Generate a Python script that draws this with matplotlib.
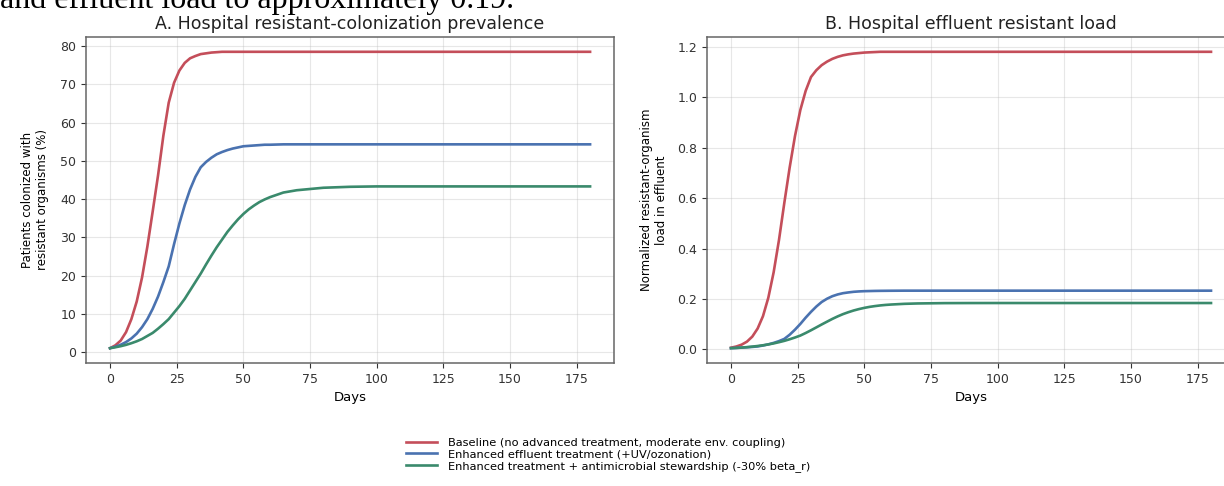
import matplotlib
matplotlib.use("Agg")
import matplotlib.pyplot as plt

# days sampled from the figure
days = [0, 2, 4, 6, 8, 10, 12, 14, 16, 18, 20, 22, 24, 26, 28, 30, 32, 34, 36, 38,
        40, 42, 44, 46, 48, 50, 52, 54, 56, 58, 60, 65, 70, 80, 90, 100, 120, 140, 160, 180]

# panel A: colonized patients (%)
prev_baseline = [1.0, 1.75, 3.0, 5.2, 8.6, 13.2, 19.5, 27.6, 36.8, 46.2, 56.6, 65.2, 70.4, 73.6,
                 75.6, 76.8, 77.4, 77.9, 78.1, 78.3, 78.4, 78.5, 78.5, 78.5, 78.5, 78.5, 78.5, 78.5,
                 78.5, 78.5, 78.5, 78.5, 78.5, 78.5, 78.5, 78.5, 78.5, 78.5, 78.5, 78.5]
prev_enhanced = [1.0, 1.38, 1.9, 2.6, 3.55, 4.8, 6.5, 8.6, 11.3, 14.5, 18.3, 22.4, 28.2, 33.6,
                 38.4, 42.5, 45.8, 48.3, 49.7, 50.8, 51.7, 52.3, 52.8, 53.2, 53.5, 53.8, 53.9, 54.0,
                 54.1, 54.2, 54.2, 54.3, 54.3, 54.3, 54.3, 54.3, 54.3, 54.3, 54.3, 54.3]
prev_stewardship = [1.0, 1.24, 1.52, 1.87, 2.3, 2.8, 3.4, 4.2, 5.0, 6.1, 7.3, 8.6, 10.3, 12.0,
                    13.9, 16.1, 18.3, 20.5, 22.9, 25.2, 27.4, 29.4, 31.4, 33.1, 34.7, 36.1, 37.3,
                    38.3, 39.2, 39.9, 40.5, 41.7, 42.3, 42.95, 43.2, 43.3, 43.3, 43.3, 43.3, 43.3]

# panel B: normalized effluent load
load_baseline = [0.007, 0.0116, 0.019, 0.031, 0.051, 0.083, 0.132, 0.205, 0.306, 0.434, 0.581,
                 0.721, 0.846, 0.949, 1.025, 1.080, 1.107, 1.127, 1.141, 1.152, 1.160, 1.166,
                 1.170, 1.173, 1.175, 1.177, 1.178, 1.179, 1.18, 1.18, 1.18, 1.18, 1.18, 1.18,
                 1.18, 1.18, 1.18, 1.18, 1.18, 1.18]
load_enhanced = [0.005, 0.006, 0.0071, 0.0085, 0.010, 0.0119, 0.0155, 0.0201, 0.0259, 0.033,
                 0.0418, 0.0583, 0.0784, 0.101, 0.126, 0.149, 0.170, 0.188, 0.201, 0.211, 0.218,
                 0.223, 0.226, 0.2285, 0.230, 0.231, 0.2315, 0.232, 0.2323, 0.2325, 0.2327, 0.233,
                 0.233, 0.233, 0.233, 0.233, 0.233, 0.233, 0.233, 0.233]
load_stewardship = [0.005, 0.0061, 0.0075, 0.0091, 0.0112, 0.0136, 0.0165, 0.0199, 0.0239, 0.0287,
                    0.034, 0.0403, 0.0473, 0.055, 0.0651, 0.076, 0.0874, 0.0989, 0.110, 0.121,
                    0.131, 0.140, 0.1476, 0.1544, 0.160, 0.1648, 0.1688, 0.1719, 0.1745, 0.1765,
                    0.178, 0.1808, 0.1823, 0.1836, 0.1839, 0.184, 0.184, 0.184, 0.184, 0.184]

labels = ["Baseline (no advanced treatment, moderate env. coupling)",
          "Enhanced effluent treatment (+UV/ozonation)",
          "Enhanced treatment + antimicrobial stewardship (-30% beta_r)"]
colors = ["#c44e5a", "#4a72b0", "#3a8a6c"]

fig = plt.figure(figsize=(12.24, 4.86), dpi=100)
ax1 = fig.add_axes([0.0703, 0.2531, 0.4314, 0.6708])
ax2 = fig.add_axes([0.5776, 0.2531, 0.4314, 0.6708])

# clipped text from the surrounding document
fig.text(0.0, 0.984, "and effluent load to approximately 0.19.", family="Liberation Serif",
         fontsize=23, va="baseline", ha="left", color="black")

lines = []
for ys, c in zip([prev_baseline, prev_enhanced, prev_stewardship], colors):
    ln, = ax1.plot(days, ys, color=c, lw=1.9)
    lines.append(ln)
for ys, c in zip([load_baseline, load_enhanced, load_stewardship], colors):
    ax2.plot(days, ys, color=c, lw=1.9)

ax1.set_title("A. Hospital resistant-colonization prevalence", fontsize=12.5, color="#222222")
ax2.set_title("B. Hospital effluent resistant load", fontsize=12.5, color="#222222")
ax1.set_ylabel("Patients colonized with\nresistant organisms (%)", fontsize=8.5, labelpad=8)
ax2.set_ylabel("Normalized resistant-organism\nload in effluent", fontsize=8.5, labelpad=7)

for ax in (ax1, ax2):
    ax.set_xlabel("Days", fontsize=9.5)
    ax.set_xticks([0, 25, 50, 75, 100, 125, 150, 175])
    ax.grid(True, color="#bbbbbb", alpha=0.35, lw=0.8)
    ax.tick_params(labelsize=9, colors="#333333")
    for sp in ax.spines.values():
        sp.set_color("#666666")
        sp.set_linewidth(1.1)

ax1.set_yticks([0, 10, 20, 30, 40, 50, 60, 70, 80])
ax2.set_yticks([0.0, 0.2, 0.4, 0.6, 0.8, 1.0, 1.2])

fig.legend(lines, labels, loc="center", bbox_to_anchor=(0.497, 0.064), frameon=False,
           fontsize=8.2, labelspacing=0.15, handlelength=2.7, handletextpad=1.0)

fig.savefig("out.png", dpi=100)
